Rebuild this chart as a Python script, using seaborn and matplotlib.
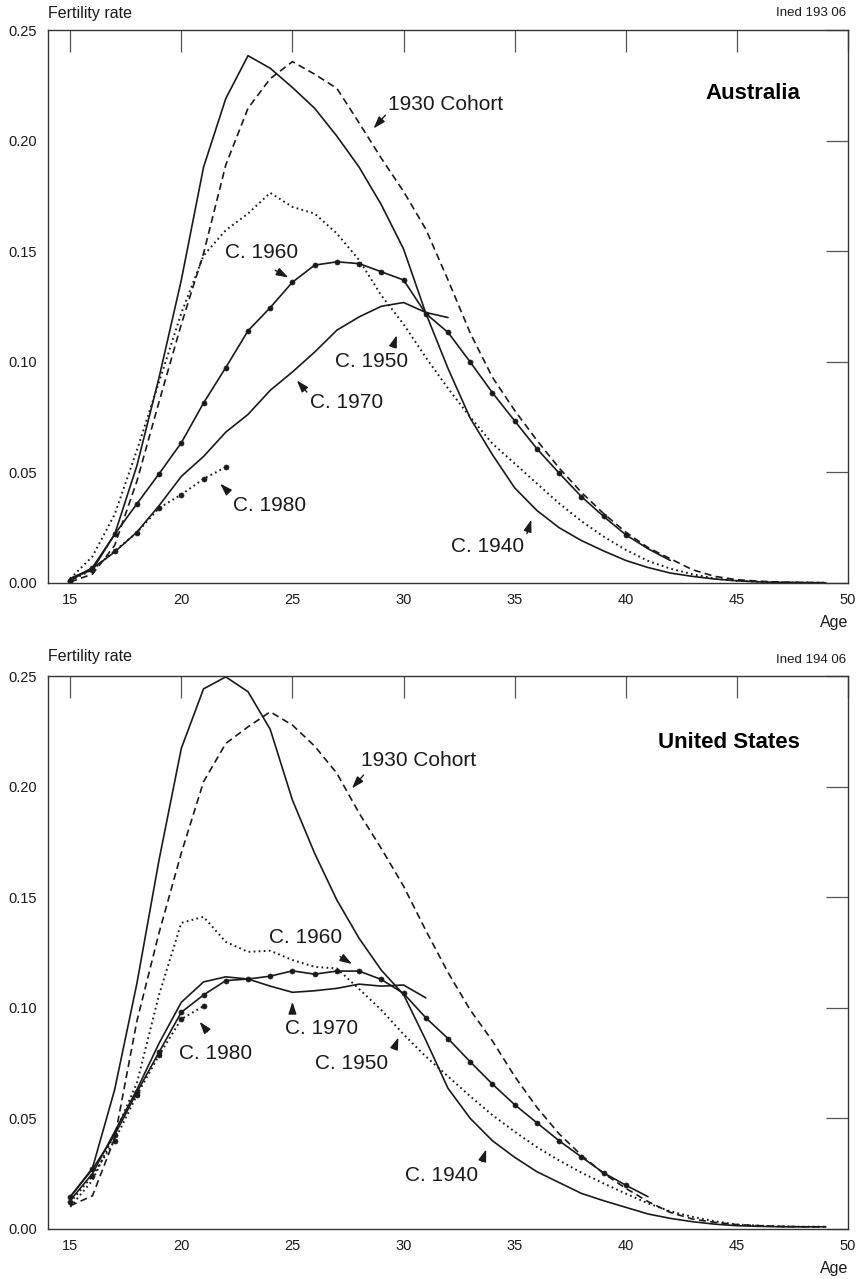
import matplotlib
matplotlib.use("Agg")
import matplotlib.pyplot as plt
import seaborn as sns

# ---------------------------------------------------------------- data
ages = list(range(15, 50))

# Australia: age-specific fertility rates by birth cohort
aus_c1930 = [0.0005, 0.004, 0.017, 0.046, 0.082, 0.117, 0.149, 0.189, 0.2146, 0.228,
             0.2357, 0.230, 0.2236, 0.208, 0.192, 0.177, 0.160, 0.137, 0.113, 0.093,
             0.078, 0.0645, 0.052, 0.041, 0.0314, 0.023, 0.016, 0.011, 0.006, 0.003,
             0.0015, 0.0008, 0.0004, 0.0002, 0.0001]
aus_c1940 = [0.002, 0.006, 0.022, 0.053, 0.093, 0.137, 0.188, 0.219, 0.2384, 0.2327,
             0.224, 0.2146, 0.202, 0.188, 0.171, 0.151, 0.122, 0.097, 0.0745, 0.058,
             0.043, 0.0328, 0.025, 0.0192, 0.0145, 0.0102, 0.007, 0.0045, 0.003, 0.0018,
             0.001, 0.0005, 0.0003, 0.0002, 0.0001]
aus_c1950 = [0.002, 0.012, 0.031, 0.060, 0.091, 0.122, 0.148, 0.1595, 0.167, 0.1764,
             0.170, 0.167, 0.158, 0.146, 0.130, 0.117, 0.102, 0.088, 0.075, 0.063,
             0.054, 0.045, 0.036, 0.028, 0.021, 0.015, 0.010, 0.0065, 0.004, 0.002,
             0.001, 0.0006, 0.0003, 0.0002, 0.0001]
aus_c1960 = [0.001, 0.007, 0.022, 0.0358, 0.0494, 0.0634, 0.0814, 0.0974, 0.114, 0.1245,
             0.136, 0.1437, 0.1452, 0.1444, 0.1407, 0.137, 0.1218, 0.1133, 0.0999, 0.086,
             0.0733, 0.0607, 0.0497, 0.0391, 0.0301, 0.0218, 0.0155, 0.0102]
aus_c1970 = [0.002, 0.0066, 0.014, 0.023, 0.035, 0.0482, 0.0572, 0.0682, 0.0762, 0.0871,
             0.0954, 0.1044, 0.1143, 0.1203, 0.1251, 0.1268, 0.1223, 0.120]
aus_c1980 = [0.001, 0.006, 0.0145, 0.0228, 0.0339, 0.040, 0.0471, 0.0524]

# United States
usa_c1930 = [0.0105, 0.015, 0.041, 0.094, 0.134, 0.170, 0.2022, 0.2195, 0.227, 0.2338,
             0.2278, 0.2183, 0.206, 0.188, 0.172, 0.155, 0.135, 0.116, 0.099, 0.085,
             0.069, 0.055, 0.043, 0.0334, 0.0251, 0.0184, 0.0124, 0.0075, 0.0045, 0.003,
             0.002, 0.0015, 0.0012, 0.001, 0.001]
usa_c1940 = [0.0146, 0.0275, 0.063, 0.111, 0.167, 0.2173, 0.2442, 0.2496, 0.2429, 0.2259,
             0.1939, 0.1698, 0.1487, 0.1314, 0.117, 0.106, 0.0854, 0.0636, 0.050, 0.0399,
             0.0324, 0.0259, 0.021, 0.0161, 0.0128, 0.0098, 0.0068, 0.0048, 0.0033, 0.0022,
             0.0015, 0.0012, 0.001, 0.001, 0.001]
usa_c1950 = [0.010, 0.022, 0.043, 0.066, 0.106, 0.1384, 0.1411, 0.1298, 0.1253, 0.1258,
             0.1216, 0.1185, 0.1178, 0.1085, 0.099, 0.088, 0.078, 0.069, 0.060, 0.0515,
             0.044, 0.037, 0.031, 0.0255, 0.0206, 0.016, 0.0116, 0.008, 0.0055, 0.0035,
             0.002, 0.0015, 0.0012, 0.001, 0.001]
usa_c1960 = [0.0145, 0.027, 0.0425, 0.0618, 0.080, 0.098, 0.1058, 0.1123, 0.113, 0.1143,
             0.1167, 0.1152, 0.1166, 0.1166, 0.1128, 0.1065, 0.0955, 0.0861, 0.0756, 0.0655,
             0.0562, 0.048, 0.0399, 0.0326, 0.0254, 0.0198, 0.0146]
usa_c1970 = [0.013, 0.025, 0.044, 0.063, 0.084, 0.1025, 0.1117, 0.114, 0.113, 0.1098,
             0.107, 0.1077, 0.1088, 0.1107, 0.1098, 0.1103, 0.1045]
usa_c1980 = [0.012, 0.024, 0.040, 0.0605, 0.0786, 0.0949, 0.1008]

x_ticks = [15, 20, 25, 30, 35, 40, 45, 50]
y_ticks = [0.00, 0.05, 0.10, 0.15, 0.20, 0.25]
y_tick_labels = ["0.00", "0.05", "0.10", "0.15", "0.20", "0.25"]

# ---------------------------------------------------------------- styling
sns.set_style("white")
plt.rcParams["font.family"] = ["Liberation Sans", "DejaVu Sans"]

INK = "#1a1a1a"
LW = 1.2
DASHED = (0, (4.2, 2.6))
DOTTED = (0, (0.9, 1.7))

fig = plt.figure(figsize=(8.58, 12.79), dpi=100)
W, H = 858.0, 1279.0
ax_top = fig.add_axes([48 / W, 696 / H, 800 / W, 553 / H])
ax_bot = fig.add_axes([48 / W, 50 / H, 800 / W, 553 / H])


def draw_curve(ax, values, style, marked=None):
    x = ages[:len(values)]
    lw = 1.4 if style == DOTTED else LW
    kws = dict(color=INK, linewidth=lw, linestyle=style)
    if marked is not None:
        kws.update(marker="o", markersize=3.6, markevery=marked,
                   markeredgecolor=INK, markerfacecolor=INK, markeredgewidth=0.5)
    sns.lineplot(x=x, y=values, ax=ax, **kws)


def dress_axes(ax):
    ax.set_xlim(14, 50)
    ax.set_ylim(0, 0.25)
    ax.set_xticks(x_ticks)
    ax.set_xticklabels([str(t) for t in x_ticks])
    ax.set_yticks(y_ticks)
    ax.set_yticklabels(y_tick_labels)
    ax.set_xlabel("")
    ax.set_ylabel("")
    ax.tick_params(direction="in", length=16, width=0.9, color="#555555",
                   top=True, right=True, labelsize=10.5, labelcolor=INK)
    ax.tick_params(axis="x", pad=7)
    ax.tick_params(axis="y", pad=8)
    for sp in ax.spines.values():
        sp.set_visible(True)
        sp.set_color("#333333")
        sp.set_linewidth(1.0)
    ax.grid(False)
    if ax.get_legend() is not None:
        ax.get_legend().remove()


def label_curve(ax, text, text_xy, tail, head, ha="center"):
    ax.text(text_xy[0], text_xy[1], text, fontsize=15, ha=ha, va="center", color=INK)
    ax.annotate("", xy=head, xytext=tail,
                arrowprops=dict(arrowstyle="-|>,head_length=0.6,head_width=0.2",
                                color=INK, lw=1.0, shrinkA=0, shrinkB=0,
                                mutation_scale=12))


# ---------------------------------------------------------------- Australia
draw_curve(ax_top, aus_c1930, DASHED)
draw_curve(ax_top, aus_c1940, "-")
draw_curve(ax_top, aus_c1950, DOTTED)
draw_curve(ax_top, aus_c1960, "-", marked=list(range(26)))
draw_curve(ax_top, aus_c1970, "-")
draw_curve(ax_top, aus_c1980, DOTTED, marked=list(range(len(aus_c1980))))
dress_axes(ax_top)

label_curve(ax_top, "1930 Cohort", (29.31, 0.2163), (29.18, 0.2115), (28.65, 0.2055), ha="left")
label_curve(ax_top, "C. 1960", (23.62, 0.1493), (24.22, 0.1414), (24.82, 0.1381))
label_curve(ax_top, "C. 1950", (28.55, 0.1000), (29.52, 0.1067), (29.70, 0.1120))
label_curve(ax_top, "C. 1970", (27.42, 0.0817), (25.65, 0.0863), (25.20, 0.0916))
label_curve(ax_top, "C. 1980", (23.97, 0.0351), (22.12, 0.0411), (21.75, 0.0449))
label_curve(ax_top, "C. 1940", (33.77, 0.0167), (35.55, 0.0223), (35.75, 0.0286))
ax_top.text(47.85, 0.2215, "Australia", fontsize=16, fontweight="bold",
            ha="right", va="center", color="black")

# ---------------------------------------------------------------- United States
draw_curve(ax_bot, usa_c1930, DASHED)
draw_curve(ax_bot, usa_c1940, "-")
draw_curve(ax_bot, usa_c1950, DOTTED)
draw_curve(ax_bot, usa_c1960, "-", marked=list(range(26)))
draw_curve(ax_bot, usa_c1970, "-")
draw_curve(ax_bot, usa_c1980, DOTTED, marked=list(range(len(usa_c1980))))
dress_axes(ax_bot)

label_curve(ax_bot, "1930 Cohort", (28.10, 0.2120), (28.20, 0.2052), (27.68, 0.1992), ha="left")
label_curve(ax_bot, "C. 1960", (25.58, 0.1317), (27.15, 0.1231), (27.68, 0.1198))
label_curve(ax_bot, "C. 1970", (26.33, 0.0908), (25.00, 0.0975), (25.00, 0.1027))
label_curve(ax_bot, "C. 1980", (21.53, 0.0795), (21.18, 0.0892), (20.82, 0.0937))
label_curve(ax_bot, "C. 1950", (27.65, 0.0750), (29.58, 0.0816), (29.77, 0.0866))
label_curve(ax_bot, "C. 1940", (31.70, 0.0244), (33.53, 0.0304), (33.72, 0.0360))
ax_bot.text(47.85, 0.2198, "United States", fontsize=16, fontweight="bold",
            ha="right", va="center", color="black")

# ---------------------------------------------------------------- panel captions
for top_px, code in ((13.5, "Ined 193 06"), (660.0, "Ined 194 06")):
    fig.text(846 / W, 1 - top_px / H, code, fontsize=9.5, ha="right", va="center", color=INK)
for top_px in (13.5, 657.0):
    fig.text(47.5 / W, 1 - top_px / H, "Fertility rate", fontsize=11.5,
             ha="left", va="center", color=INK)
for top_px in (622.0, 1268.0):
    fig.text(848 / W, 1 - top_px / H, "Age", fontsize=11.5, ha="right", va="center", color=INK)

fig.savefig("out.png", dpi=100, facecolor="white")
